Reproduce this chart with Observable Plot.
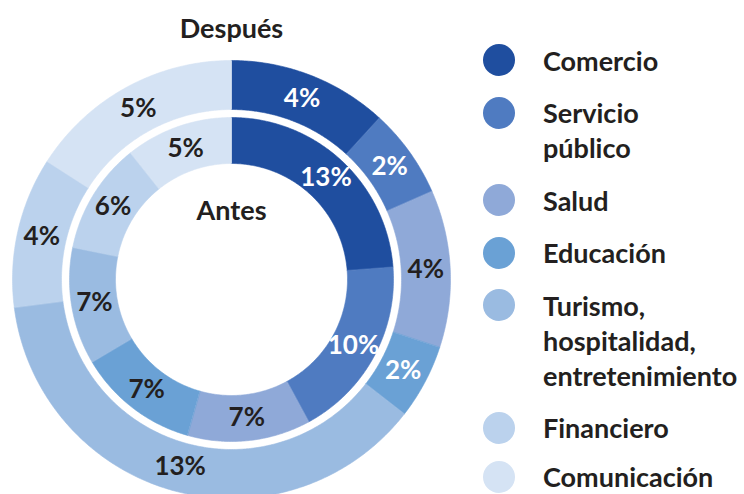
<!DOCTYPE html>
<html><head><meta charset="utf-8">
<script src="https://cdn.jsdelivr.net/npm/d3@7"></script>
<script src="https://cdn.jsdelivr.net/npm/@observablehq/plot@0.6"></script>
<style>
body{margin:0;background:#fff;font-family:Lato, sans-serif;}
#wrap{position:relative;width:744px;height:494px;overflow:hidden}
#chart{position:absolute;left:0;top:0}
#legend{position:absolute;left:483px;top:42.5px;}
.item{display:flex;align-items:flex-start;margin-bottom:17.5px}
.item:nth-child(6){margin-bottom:14px}
.sw{width:32px;height:32px;border-radius:50%;margin-top:1.5px;flex:none}
.lab{margin-left:28px;font-weight:700;font-size:27px;line-height:35px;color:#231f20;white-space:nowrap}
.item:last-child .lab{line-height:26px;margin-top:4.5px}
</style></head><body><div id="wrap"><div id="chart"></div><div id="legend"></div></div>
<script>
// ---- data ----
const categories = ["Comercio","Servicio público","Salud","Educación","Turismo, hospitalidad, entretenimiento","Financiero","Comunicación"];
const legendLines = [["Comercio"],["Servicio","público"],["Salud"],["Educación"],["Turismo,","hospitalidad,","entretenimiento"],["Financiero"],["Comunicación"]];
// labelled values (%)
const antes = [13,10,7,7,7,6,5];
const despues = [4,2,4,2,13,4,5];
// slice sizes as drawn (share of each ring, %)
const antesSlice = [23.8,18.3,12.3,12.1,11.7,11.1,10.7];
const despuesSlice = [11.8,6.6,11.6,5.5,37.4,11.1,15.9];
const ringTitles = ["Después","Antes"];

// ---- style ----
const colors = ["#1f4e9f","#4f7bc1","#8fa9d8","#6aa1d5","#9abbe1","#bbd2ed","#d5e3f4"];
const dark = "#231f20";
const whiteLabels = {Antes: new Set([0,1]), "Después": new Set([0,1,3])};

// ---- geometry (units of outer radius) ----
const Rpx = 219, cx = 231, cy = 279, W = 470, H = 494;
const rings = {Antes: [116/Rpx, 162/Rpx], "Después": [170/Rpx, 1]};

const rows = [], labels = [];
function build(values, slices, ring) {
  const pie = d3.pie().sort(null).value(d => d)(slices);
  const [r0, r1] = rings[ring];
  pie.forEach((p, i) => {
    const span = p.endAngle - p.startAngle;
    const n = Math.max(8, Math.ceil(span / 0.01));
    const key = ring + i;
    for (let k = 0; k <= n; k++) {
      const a = p.startAngle + span * k / n;
      rows.push({key, cat: categories[i], x: r1 * Math.sin(a), y: r1 * Math.cos(a)});
    }
    for (let k = n; k >= 0; k--) {
      const a = p.startAngle + span * k / n;
      rows.push({key, cat: categories[i], x: r0 * Math.sin(a), y: r0 * Math.cos(a)});
    }
    const m = (p.startAngle + p.endAngle) / 2, rm = (r0 + r1) / 2;
    labels.push({ring, white: whiteLabels[ring].has(i), text: values[i] + "%", x: rm * Math.sin(m), y: rm * Math.cos(m)});
  });
}
build(antes, antesSlice, "Antes");
build(despues, despuesSlice, "Después");

const titles = [
  {text: ringTitles[0], x: 0, y: (cy - 29) / Rpx},
  {text: ringTitles[1], x: 0, y: (cy - 211) / Rpx}
];

const chart = Plot.plot({
  width: W, height: H, margin: 0,
  x: {domain: [-cx / Rpx, (W - cx) / Rpx], range: [0, W], axis: null},
  y: {domain: [-(H - cy) / Rpx, cy / Rpx], range: [H, 0], axis: null},
  color: {domain: categories, range: colors},
  style: {fontFamily: "Lato, sans-serif", background: "white"},
  marks: [
    Plot.line(rows, {x: "x", y: "y", z: "key", fill: "cat", stroke: "cat", strokeWidth: 0.6, curve: "linear-closed"}),
    Plot.text(labels.filter(d => d.white), {x: "x", y: "y", text: "text", fill: "white", fontSize: 26, fontWeight: 700}),
    Plot.text(labels.filter(d => !d.white), {x: "x", y: "y", text: "text", fill: dark, fontSize: 26, fontWeight: 700}),
    Plot.text(titles, {x: "x", y: "y", text: "text", fill: dark, fontSize: 27, fontWeight: 700})
  ]
});
document.getElementById("chart").appendChild(chart);

const legend = document.getElementById("legend");
legendLines.forEach((lines, i) => {
  const item = document.createElement("div");
  item.className = "item";
  const sw = document.createElement("div");
  sw.className = "sw";
  sw.style.background = colors[i];
  const lab = document.createElement("div");
  lab.className = "lab";
  lab.innerHTML = lines.join("<br>");
  item.appendChild(sw); item.appendChild(lab);
  legend.appendChild(item);
});
</script></body></html>
